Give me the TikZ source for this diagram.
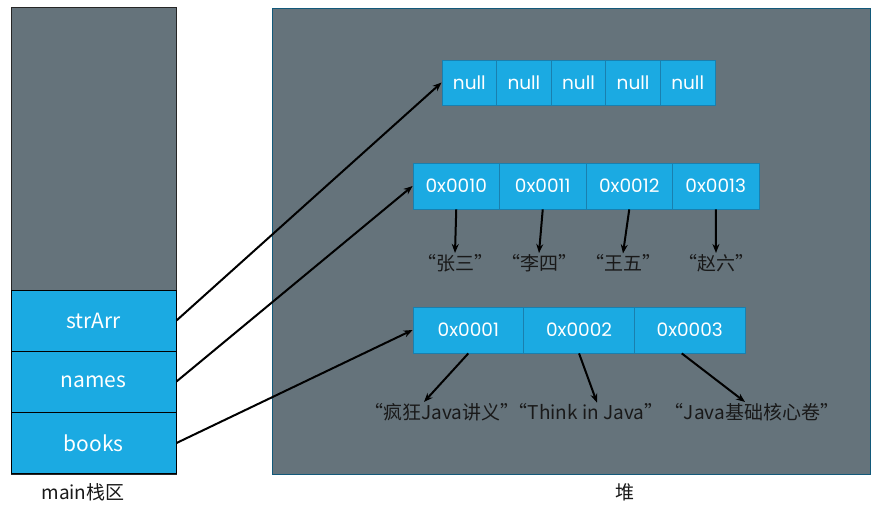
\documentclass[tikz,border=0pt]{standalone}
\usepackage{fontspec}
\usetikzlibrary{arrows.meta}
\setmainfont{Noto Sans CJK SC}
\newfontfamily\cellfont{Poppins}

\definecolor{areagray}{HTML}{65737B}
\definecolor{cellblue}{HTML}{1BAAE2}
\definecolor{celledge}{HTML}{1A7FAE}

\tikzset{
  ref/.style={-{Stealth[length=9pt,width=7pt]},line width=2pt,black},
  cell/.style={rectangle,draw=celledge,line width=0.8pt,fill=cellblue,text=white,
    inner sep=0pt,font=\cellfont\fontsize{18.5}{22}\selectfont},
  strlabel/.style={inner sep=1pt,text=black!90,font=\fontsize{19}{23}\selectfont}
}

\begin{document}
\begin{tikzpicture}[x=1pt,y=-1pt]

  \useasboundingbox (0,0) rectangle (879,511);
  \fill[white] (0,0) rectangle (879,511);

  % stack and heap areas
  \draw[fill=areagray,draw=black!85,line width=1pt] (11,8) rectangle (176,474);
  \draw[fill=areagray,draw=celledge!70!black,line width=0.8pt] (272,8) rectangle (870,474);

  \begin{scope}[every node/.style={rectangle,draw=black,line width=1pt,fill=cellblue,
      text=white,minimum width=165,minimum height=61,inner sep=0pt,
      font=\fontsize{21}{25}\selectfont}]
    \node (strArr) at (93.5,320.5) {strArr};
    \node (names) at (93.5,381.5) {names};
    \node (books) at (93.5,443) {books};
  \end{scope}

  % arrays in the heap
  \begin{scope}[every node/.style={cell,minimum width=54.6,minimum height=45}]
    \foreach \i in {0,...,4}
      \node (n\i) at ({469.3+54.6*\i},82.5) {null};
  \end{scope}

  \begin{scope}[every node/.style={cell,minimum width=86.5,minimum height=46}]
    \foreach \t [count=\i] in {0x0010,0x0011,0x0012,0x0013}
      \node (a\i) at ({369.75+86.5*\i},186) {\t};
  \end{scope}

  \begin{scope}[every node/.style={cell,minimum width=110.7,minimum height=46}]
    \foreach \t [count=\i] in {0x0001,0x0002,0x0003}
      \node (b\i) at ({357.65+110.7*\i},330) {\t};
  \end{scope}

  % strings
  \begin{scope}[every node/.style={strlabel}]
    \node (s1) at (455,263) {“张三”};
    \node (s2) at (539,263) {“李四”};
    \node (s3) at (623,263) {“王五”};
    \node (s4) at (716,263) {“赵六”};
    \node (t1) at (442,412) {“疯狂Java讲义”};
    \node (t2) at (586,412) {“Think in Java”};
    \node (t3) at (752,412) {“Java基础核心卷”};
  \end{scope}

  \node[strlabel] (stack) at (83,492) {main栈区};
  \node[strlabel] (heap) at (625,492) {堆};

  % references
  \draw[ref] (strArr.east) -- (n0.west);
  \draw[ref] (names.east) -- (a1.west);
  \draw[ref] (books.east) -- (b1.west);

  \foreach \i in {1,...,4}
    \draw[ref] (a\i.south) -- (s\i.north);

  \draw[ref] (b1.south) -- ([xshift=-18]t1.north);
  \draw[ref] (b2.south) -- ([xshift=11]t2.north);
  \draw[ref] ([xshift=-8]b3.south) -- ([xshift=-7]t3.north);

\end{tikzpicture}
\end{document}
